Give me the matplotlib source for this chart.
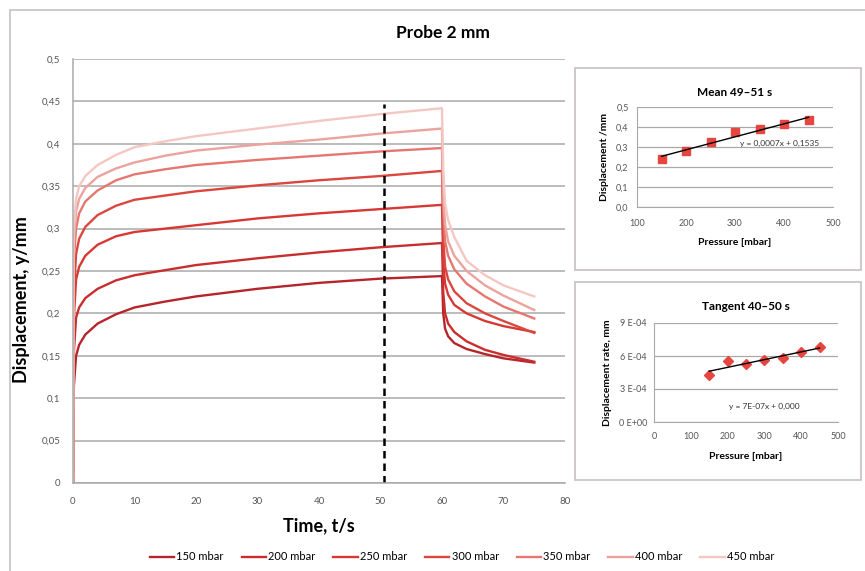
import matplotlib
matplotlib.use("Agg")
import matplotlib.pyplot as plt
import numpy as np
from matplotlib.ticker import FuncFormatter, MultipleLocator
from matplotlib.patches import Rectangle

plt.rcParams['font.family'] = ['Lato', 'DejaVu Sans']

# ---------------- data ----------------
pressures = [150, 200, 250, 300, 350, 400, 450]
labels = ["150 mbar", "200 mbar", "250 mbar", "300 mbar", "350 mbar", "400 mbar", "450 mbar"]
time_s = [0, 0.1, 0.5, 1, 2, 4, 7, 10, 15, 20, 30, 40, 50, 60, 60.2, 60.5, 61, 62, 64, 67, 70, 75]
disp_150 = [0, 0.11, 0.15, 0.163, 0.175, 0.188, 0.199, 0.207, 0.214, 0.220, 0.229, 0.236, 0.241, 0.244,
            0.200, 0.182, 0.173, 0.165, 0.158, 0.152, 0.147, 0.142]
disp_200 = [0, 0.15, 0.195, 0.207, 0.218, 0.229, 0.239, 0.245, 0.251, 0.257, 0.265, 0.272, 0.278, 0.283,
            0.225, 0.200, 0.188, 0.178, 0.167, 0.157, 0.151, 0.143]
disp_250 = [0, 0.19, 0.24, 0.255, 0.268, 0.281, 0.291, 0.296, 0.300, 0.304, 0.312, 0.318, 0.323, 0.328,
            0.260, 0.235, 0.222, 0.210, 0.200, 0.191, 0.185, 0.178]
disp_300 = [0, 0.22, 0.27, 0.288, 0.302, 0.316, 0.327, 0.334, 0.339, 0.344, 0.351, 0.357, 0.362, 0.368,
            0.290, 0.255, 0.240, 0.226, 0.212, 0.200, 0.191, 0.177]
disp_350 = [0, 0.26, 0.30, 0.318, 0.332, 0.345, 0.357, 0.364, 0.370, 0.375, 0.381, 0.386, 0.391, 0.395,
            0.320, 0.285, 0.268, 0.252, 0.235, 0.220, 0.208, 0.194]
disp_400 = [0, 0.28, 0.32, 0.335, 0.348, 0.361, 0.371, 0.378, 0.386, 0.392, 0.399, 0.405, 0.412, 0.418,
            0.340, 0.305, 0.285, 0.268, 0.250, 0.233, 0.221, 0.204]
disp_450 = [0, 0.30, 0.335, 0.350, 0.362, 0.375, 0.387, 0.396, 0.403, 0.409, 0.418, 0.427, 0.435, 0.442,
            0.370, 0.330, 0.310, 0.290, 0.262, 0.245, 0.233, 0.220]
mark_time = 50.5
mark_top = 0.447

mean_disp = [0.24, 0.28, 0.325, 0.375, 0.39, 0.413, 0.433]
tangent_rate = [4.25e-4, 5.55e-4, 5.3e-4, 5.6e-4, 5.82e-4, 6.36e-4, 6.82e-4]
eq_mean = "y = 0,0007x + 0,1535"
eq_tangent = "y = 7E-07x + 0,000"

series = [disp_150, disp_200, disp_250, disp_300, disp_350, disp_400, disp_450]
colors = ["#b5252a", "#c92d2e", "#d83833", "#db463f", "#e57770", "#eca39d", "#f4c7c3"]

W, H = 865, 571
fig = plt.figure(figsize=(W / 100, H / 100), dpi=100)
fig.patch.set_facecolor("white")

def ax_rect(l, t, r, b):
    return [l / W, 1 - b / H, (r - l) / W, (b - t) / H]

def px_box(l, t, r, b, lw=1.2, color="#c8c0c0"):
    fig.patches.append(Rectangle((l / W, 1 - b / H), (r - l) / W, (b - t) / H,
                                 transform=fig.transFigure, fill=False, lw=lw, ec=color))

px_box(10, 10, 866, 572)
px_box(575, 68, 861, 270)
px_box(575, 282, 861, 480)

grid_c = "#a9a9a9"
tick_c = "#555555"

# ---------------- main axes ----------------
ax = fig.add_axes(ax_rect(73, 59, 565, 483))
for s, c, lab in zip(series, colors, labels):
    ax.plot(time_s, s, color=c, lw=1.7, label=lab)
ax.plot([mark_time, mark_time], [0, mark_top], color="black", ls=(0, (3, 2)), lw=1.8)
ax.set_xlim(0, 80)
ax.set_ylim(0, 0.5)
ax.xaxis.set_major_locator(MultipleLocator(10))
ax.yaxis.set_major_locator(MultipleLocator(0.05))
ax.yaxis.set_major_formatter(FuncFormatter(
    lambda v, p: ("%.2f" % v).rstrip("0").rstrip(".").replace(".", ",") if v else "0"))
ax.grid(axis="y", color=grid_c, lw=1.1)
ax.set_axisbelow(True)
for sp in ["top", "right"]:
    ax.spines[sp].set_visible(False)
for sp in ["left", "bottom"]:
    ax.spines[sp].set_color(grid_c)
    ax.spines[sp].set_linewidth(1.1)
ax.tick_params(axis="both", length=0, labelsize=7, colors=tick_c)
ax.tick_params(axis="y", pad=9)
ax.tick_params(axis="x", pad=10)
ax.set_ylabel("Displacement, y/mm", fontsize=13, fontweight="bold")
ax.yaxis.set_label_coords((30 - 73) / 492, (483 - 300) / 424)
ax.set_xlabel("Time, t/s", fontsize=13, fontweight="bold", labelpad=8)
fig.text(443 / W, 1 - 33 / H, "Probe 2 mm", fontsize=12.5, fontweight="bold", ha="center", va="center")

handles, labs = ax.get_legend_handles_labels()
fig.legend(handles, labs, loc="center", bbox_to_anchor=(462 / W, 1 - 557 / H), ncol=7,
           frameon=False, fontsize=8, handlelength=2.2, handletextpad=0.2, columnspacing=1.6)

# ---------------- inset 1 ----------------
a1 = fig.add_axes(ax_rect(637, 107, 833, 207))
a1.plot(pressures, mean_disp, ls="none", marker="s", ms=5.5, color="#e6463f")
k1 = np.polyfit(pressures, mean_disp, 1)
a1.plot([pressures[0], pressures[-1]], np.polyval(k1, [pressures[0], pressures[-1]]), color="black", lw=1)
a1.set_xlim(100, 500)
a1.set_ylim(0, 0.5)
a1.xaxis.set_major_locator(MultipleLocator(100))
a1.yaxis.set_major_locator(MultipleLocator(0.1))
a1.yaxis.set_major_formatter(FuncFormatter(lambda v, p: ("%.1f" % v).replace(".", ",")))
a1.grid(axis="y", color=grid_c, lw=0.9)
a1.set_axisbelow(True)
for sp in ["top", "right"]:
    a1.spines[sp].set_visible(False)
for sp in ["left", "bottom"]:
    a1.spines[sp].set_color(grid_c)
a1.tick_params(axis="both", length=0, labelsize=6.5, colors=tick_c)
a1.tick_params(axis="x", pad=9)
a1.tick_params(axis="y", pad=6)
a1.set_title("Mean 49\u201351 s", fontsize=8.5, fontweight="bold", pad=8)
a1.set_ylabel("Displacement /mm", fontsize=7.5, fontweight="bold", labelpad=5)
a1.set_xlabel("Pressure [mbar]", fontsize=7.5, fontweight="bold", labelpad=7)
a1.text(310, 0.32, eq_mean, fontsize=6, color="#333333", ha="left", va="center")

# ---------------- inset 2 ----------------
a2 = fig.add_axes(ax_rect(654, 323, 838, 422))
a2.plot(pressures, tangent_rate, ls="none", marker="D", ms=5, color="#e6463f")
k2 = np.polyfit(pressures, tangent_rate, 1)
a2.plot([pressures[0], pressures[-1]], np.polyval(k2, [pressures[0], pressures[-1]]), color="black", lw=1)
a2.set_xlim(0, 500)
a2.set_ylim(0, 9e-4)
a2.xaxis.set_major_locator(MultipleLocator(100))
a2.set_yticks([0, 3e-4, 6e-4, 9e-4])
a2.set_yticklabels(["0 E+00", "3 E-04", "6 E-04", "9 E-04"])
a2.grid(axis="y", color=grid_c, lw=0.9)
a2.set_axisbelow(True)
for sp in ["top", "right"]:
    a2.spines[sp].set_visible(False)
for sp in ["left", "bottom"]:
    a2.spines[sp].set_color(grid_c)
a2.tick_params(axis="both", length=0, labelsize=6.5, colors=tick_c)
a2.tick_params(axis="x", pad=7)
a2.tick_params(axis="y", pad=5)
a2.set_title("Tangent 40\u201350 s", fontsize=8.5, fontweight="bold", pad=9)
a2.set_ylabel("Displacement rate, mm", fontsize=7.5, fontweight="bold", labelpad=5)
a2.set_xlabel("Pressure [mbar]", fontsize=7.5, fontweight="bold", labelpad=8)
a2.text(300, 1.45e-4, eq_tangent, fontsize=6, color="#333333", ha="center", va="center")

fig.savefig("out.png", dpi=100, facecolor="white")
